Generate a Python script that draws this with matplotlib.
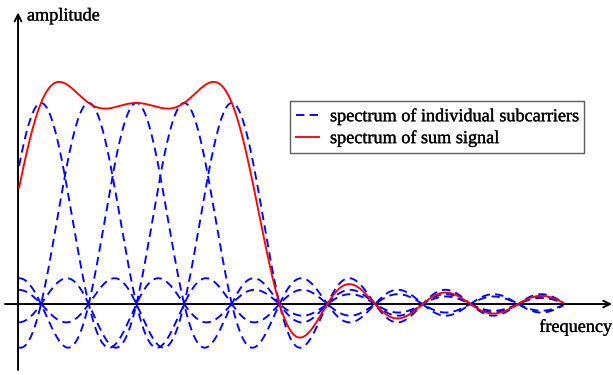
import numpy as np
import matplotlib
matplotlib.use("Agg")
import matplotlib.pyplot as plt
import matplotlib.patheffects as pe

# Subcarrier centre frequencies (in units of subcarrier spacing) and their amplitudes
subcarrier_centers = [0, 1, 2, 3, 4]
subcarrier_amplitudes = [1.0, 1.0, 1.0, 1.0, 1.0]
freq_start, freq_stop = -0.46, 10.95

legend_labels = ["spectrum of individual subcarriers", "spectrum of sum signal"]
x_label = "frequency"
y_label = "amplitude"

plt.rcParams["font.family"] = ["Liberation Serif", "DejaVu Serif"]
heavy = [pe.withStroke(linewidth=0.2, foreground="black")]

fig = plt.figure(figsize=(6.13, 3.75), dpi=100)
ax = fig.add_axes([0, 0, 1, 1])
ax.set_xlim(-0.860, 11.99)
ax.set_ylim(-0.353, 1.512)
ax.axis("off")

f = np.linspace(freq_start, freq_stop, 2000)
spectra = [a * np.sinc(f - c) for c, a in zip(subcarrier_centers, subcarrier_amplitudes)]
total = np.sum(spectra, axis=0)

dash = (0, (4.5, 2.8))
for i, s in enumerate(spectra):
    ax.plot(f, s, color="#0000ff", lw=1.35, linestyle=dash,
            label=legend_labels[0] if i == 0 else None, zorder=3)
ax.plot(f, total, color="#ff0000", lw=1.35, label=legend_labels[1], zorder=4)

# coordinate axes with arrow heads
arrow = dict(arrowstyle="->", color="black", lw=1.4, shrinkA=0, shrinkB=0,
             mutation_scale=12)
ax.annotate("", xy=(11.97, 0), xytext=(-0.755, 0), arrowprops=arrow, zorder=2)
ax.annotate("", xy=(-0.482, 1.45), xytext=(-0.482, -0.328), arrowprops=arrow, zorder=2)

ax.text(27 / 613, 1 - 16 / 375, y_label, transform=fig.transFigure,
        fontsize=13.1, ha="left", va="center", path_effects=heavy)
ax.text(612 / 613, 1 - 327 / 375, x_label, transform=fig.transFigure,
        fontsize=13.1, ha="right", va="center", path_effects=heavy)

leg = ax.legend(loc="upper left", bbox_to_anchor=(290 / 613, 1 - 101 / 375),
                bbox_transform=fig.transFigure, borderaxespad=0, fontsize=13.1,
                frameon=True, fancybox=False, edgecolor="#333333",
                handlelength=1.25, handletextpad=0.6, borderpad=0.35,
                labelspacing=0.22)
leg.get_frame().set_linewidth(1.0)
for t in leg.get_texts():
    t.set_path_effects(heavy)

fig.savefig("out.png", dpi=100)
